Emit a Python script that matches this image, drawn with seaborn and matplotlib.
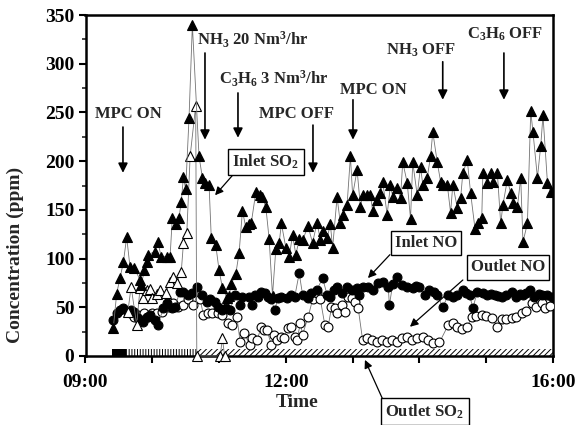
import numpy as np
import pandas as pd
import matplotlib
matplotlib.use("Agg")
import matplotlib.pyplot as plt
import seaborn as sns
from matplotlib.ticker import MultipleLocator

# ---------------- data (minutes after 09:00, ppm) ----------------
inlet_so2_min = [25, 28, 31, 34, 37, 40, 44, 49, 50, 53, 55, 56, 62, 65, 68, 73, 76, 78, 81, 84,
                 86, 88, 90, 93, 96, 102, 105, 107, 111, 113, 117, 120, 123, 127, 129, 131, 135, 138,
                 141, 144, 147, 149, 153, 157, 159, 162, 165, 168, 171, 174, 176, 180, 183, 186, 189,
                 192, 195, 200, 204, 208, 211, 213, 217, 220, 222, 226, 229, 231, 235, 238, 240, 244,
                 247, 249, 253, 256, 258, 262, 265, 267, 271, 274, 276, 280, 283, 285, 289, 292, 294,
                 298, 301, 303, 307, 310, 312, 316, 319, 321, 325, 328, 330, 334, 337, 339, 343, 346,
                 350, 353, 356, 357, 361, 364, 366, 370, 373, 375, 379, 382, 384, 388, 391, 393, 397,
                 400, 402, 406, 409, 411, 415, 418]
inlet_so2_ppm = [29, 64, 80, 96, 122, 91, 90, 78, 73, 88, 96, 104, 107, 117, 102, 102, 102, 142, 135, 142,
                 158, 184, 171, 244, 340, 205, 183, 178, 176, 121, 114, 88, 70, 60, 62, 74, 84, 106,
                 149, 132, 135, 137, 168, 165, 163, 153, 120, 62, 110, 116, 136, 111, 102, 124, 104,
                 120, 119, 133, 116, 137, 119, 128, 121, 135, 111, 163, 136, 145, 155, 205, 165, 191,
                 153, 165, 165, 165, 149, 160, 167, 179, 145, 176, 163, 172, 162, 199, 178, 141, 199,
                 165, 194, 176, 183, 205, 230, 199, 179, 176, 176, 147, 176, 152, 162, 188, 201, 167,
                 130, 136, 142, 188, 178, 188, 179, 188, 136, 155, 181, 167, 157, 153, 183, 117, 136,
                 251, 230, 183, 216, 247, 178, 168]

outlet_so2_min = [38, 41, 46, 49, 52, 55, 58, 60, 64, 67, 72, 76, 79, 82, 86, 88, 91, 94, 99, 100,
                  121, 123, 125]
outlet_so2_ppm = [45, 71, 32, 70, 60, 68, 69, 60, 64, 68, 65, 76, 81, 75, 86, 116, 126, 205, 257, 0,
                  0, 18, 0]

inlet_no_min = [25, 28, 31, 34, 38, 41, 44, 47, 52, 55, 58, 62, 65, 70, 73, 78, 80, 85, 88, 92,
                96, 100, 105, 109, 112, 116, 119, 123, 126, 130, 134, 139, 141, 147, 150, 152, 155,
                158, 161, 164, 167, 170, 173, 176, 181, 185, 188, 192, 195, 200, 203, 208, 213, 217,
                220, 223, 226, 230, 235, 239, 244, 246, 249, 254, 258, 263, 267, 272, 273, 276, 280,
                284, 289, 294, 297, 300, 305, 309, 313, 316, 321, 326, 330, 334, 339, 342, 345, 348,
                352, 357, 361, 364, 368, 371, 374, 378, 383, 387, 390, 393, 396, 399, 403, 407, 410,
                415, 419]
inlet_no_ppm = [37, 44, 47, 49, 45, 47, 45, 39, 35, 40, 42, 37, 32, 49, 54, 49, 50, 66, 66, 63,
                65, 71, 63, 55, 58, 55, 50, 47, 49, 47, 63, 52, 61, 61, 52, 63, 61,
                66, 65, 61, 58, 47, 60, 61, 60, 63, 61, 85, 63, 60, 65, 68, 80, 63,
                61, 68, 71, 65, 71, 68, 70, 63, 71, 71, 68, 75, 76, 71, 52, 74, 81,
                73, 71, 70, 72, 71, 63, 68, 66, 63, 50, 63, 61, 63, 68, 65, 63, 49,
                66, 65, 63, 64, 63, 62, 61, 63, 66, 61, 64, 63, 65, 68, 61, 64, 63,
                63, 61]

outlet_no_min = [40, 44, 47, 53, 56, 60, 64, 69, 74, 79, 83, 88, 92, 97, 103, 106, 110, 114, 119,
                 123, 128, 132, 136, 139, 142, 148, 150, 154, 158, 160, 163, 167, 169, 172, 176, 178,
                 182, 185, 188, 190, 193, 195, 200, 204, 208, 211, 215, 218, 221, 224, 226, 230, 233,
                 236, 239, 242, 245, 249, 253, 257, 262, 266, 271, 275, 280, 284, 289, 293, 298, 303,
                 308, 312, 318, 326, 330, 334, 338, 343, 347, 351, 356, 360, 365, 370, 374, 378, 383,
                 387, 392, 396, 401, 405, 410, 413, 417]
outlet_no_ppm = [44, 40, 42, 44, 40, 44, 44, 45, 50, 54, 50, 52, 58, 52, 58, 42, 44, 44, 44,
                 42, 34, 32, 40, 14, 24, 11, 18, 16, 30, 27, 27, 11, 22, 16, 20, 18,
                 29, 30, 20, 16, 34, 22, 40, 58, 65, 58, 32, 30, 50, 49, 44, 52, 45,
                 61, 60, 55, 49, 16, 18, 16, 14, 16, 14, 16, 14, 18, 20, 16, 18, 20,
                 16, 13, 14, 32, 34, 30, 28, 30, 40, 41, 42, 41, 39, 30, 38, 38, 39,
                 40, 44, 46, 54, 50, 54, 49, 51]

# zero-level band of outlet SO2 readings (minutes after 09:00)
zero_band_start = [24, 36, 100]
zero_band_end = [36, 100, 420]

x_ticks = [9, 10, 11, 12, 13, 14, 15, 16]
x_tick_labels = ["09:00", "", "", "12:00", "", "", "", "16:00"]

# ---------------- style ----------------
sns.set_theme(style="ticks")
plt.rcParams["font.family"] = ["Liberation Serif", "DejaVu Serif"]
plt.rcParams["font.weight"] = "bold"
plt.rcParams["axes.labelweight"] = "bold"
plt.rcParams["mathtext.fontset"] = "custom"
plt.rcParams["mathtext.rm"] = "Liberation Serif:bold"
plt.rcParams["mathtext.it"] = "Liberation Serif:bold:italic"
plt.rcParams["mathtext.bf"] = "Liberation Serif:bold"
plt.rcParams["mathtext.default"] = "rm"
plt.rcParams["hatch.linewidth"] = 0.7

fig = plt.figure(figsize=(5.76, 4.25), dpi=100)
W, H = 576, 425
L, R, T, B = 85.5, 553, 15, 356
ax = fig.add_axes([L / W, 1 - B / H, (R - L) / W, (B - T) / H])


def hours(m):
    return 9 + np.asarray(m) / 60.0


def series(mins, vals, marker, face, ms, z, clip=True):
    df = pd.DataFrame({"t": hours(mins), "v": vals})
    sns.lineplot(data=df, x="t", y="v", ax=ax, sort=False, estimator=None,
                 color="0.45", lw=0.6, marker=marker, markersize=ms,
                 markerfacecolor=face, markeredgecolor="black", markeredgewidth=0.8,
                 zorder=z, clip_on=clip)


series(outlet_no_min, outlet_no_ppm, "o", "white", 6.4, 3)
series(inlet_no_min, inlet_no_ppm, "o", "black", 6.4, 4)
series(outlet_so2_min, outlet_so2_ppm, "^", "white", 6.8, 5, clip=False)
series(inlet_so2_min, inlet_so2_ppm, "^", "black", 7.0, 6)

# zero band
styles = [dict(facecolor="black", edgecolor="black", hatch=None),
          dict(facecolor="white", edgecolor="black", hatch="||||||"),
          dict(facecolor="white", edgecolor="black", hatch="//////")]
for s, e, st in zip(zero_band_start, zero_band_end, styles):
    ax.fill_between(hours([s, e]), 0, 7, lw=0, zorder=2, **st)

ax.set_xlim(9, 16)
ax.set_ylim(0, 350)
ax.set_xticks(x_ticks)
ax.set_xticklabels(x_tick_labels)
ax.yaxis.set_major_locator(MultipleLocator(50))
ax.yaxis.set_minor_locator(MultipleLocator(25))
ax.tick_params(axis="both", which="major", direction="out", length=5, width=1.5,
               labelsize=14, color="black", labelcolor="black", pad=3)
ax.tick_params(axis="x", which="major", pad=8)
ax.tick_params(axis="y", which="minor", direction="out", length=3, width=1.2)
for sp in ax.spines.values():
    sp.set_visible(True)
    sp.set_linewidth(1.8)
    sp.set_color("black")
for lab in ax.get_xticklabels() + ax.get_yticklabels():
    lab.set_fontweight("bold")

ax.set_xlabel("Time", fontsize=14, fontweight="bold")
ax.xaxis.set_label_coords((297 - L) / (R - L), (B - 394) / (B - T))
ax.set_ylabel("Concentration (ppm)", fontsize=14, fontweight="bold")
ax.yaxis.set_label_coords((24 - L) / (R - L), (B - 255) / (B - T))

# ---------------- annotations ----------------
fs = 12
arrow_kw = dict(arrowstyle="-|>", color="black", lw=1.2, mutation_scale=14, shrinkA=0, shrinkB=0)
events = [
    ("MPC ON", 9.636, 248, 9.561, 235, 188),
    ("NH$_3$ 20 Nm$^3$/hr", 11.507, 324, 10.789, 311, 222),
    ("C$_3$H$_6$ 3 Nm$^3$/hr", 11.82, 284, 11.283, 270, 224),
    ("MPC OFF", 12.166, 248, 12.406, 237, 188),
    ("MPC ON", 13.304, 273, 13.005, 263, 222),
    ("NH$_3$ OFF", 14.02, 314, 14.349, 302, 263),
    ("C$_3$H$_6$ OFF", 15.28, 330, 15.265, 311, 263),
]
for txt, tx, ty, axx, y0, y1 in events:
    ax.text(tx, ty, txt, ha="center", va="center", fontsize=fs, fontweight="bold", zorder=10)
    ax.annotate("", xy=(axx, y1), xytext=(axx, y0), arrowprops=arrow_kw, zorder=10)

box_kw = dict(boxstyle="square,pad=0.25", fc="white", ec="black", lw=1.0)
arrow2 = dict(arrowstyle="-|>", color="black", lw=0.9, mutation_scale=12, shrinkA=0, shrinkB=0)
labels = [
    ("Inlet SO$_2$", 11.702, 199, 11.196, 185, 10.94, 165),
    ("Inlet NO", 14.098, 116, 13.558, 104, 13.229, 80),
    ("Outlet NO", 15.325, 91, 14.65, 78, 13.858, 30),
    ("Outlet SO$_2$", 14.082, -57, 13.454, -45, 13.184, -4),
]
for txt, tx, ty, x0, y0, x1, y1 in labels:
    ax.text(tx, ty, txt, ha="center", va="center", fontsize=fs, fontweight="bold",
            bbox=box_kw, zorder=11, clip_on=False)
    ax.annotate("", xy=(x1, y1), xytext=(x0, y0), arrowprops=arrow2, zorder=10,
                annotation_clip=False)

fig.savefig("out.png", dpi=100)
